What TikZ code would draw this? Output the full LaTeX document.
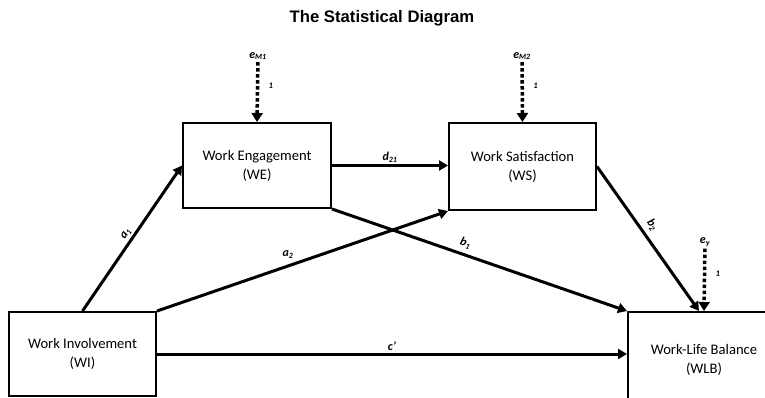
\documentclass[tikz,border=0pt]{standalone}
\usepackage{fontspec}
\setmainfont{Carlito}
\newfontfamily\titlefont{Liberation Sans}
\usetikzlibrary{arrows.meta}

\tikzset{
  var/.style={draw, line width=2pt, align=center, inner sep=0pt,
    font=\fontsize{14.6}{19}\selectfont},
  path/.style={line width=3pt, -{Triangle[length=9pt,width=10pt]}},
  err/.style={line width=3.5pt, dash pattern=on 3.5pt off 2.5pt,
    -{Triangle[length=9pt,width=11pt]}},
  coef/.style={font=\fontsize{12}{13}\selectfont\bfseries\itshape, inner sep=2pt},
  one/.style={font=\fontsize{8.5}{9}\selectfont\bfseries\itshape}
}

\begin{document}
\begin{tikzpicture}[x=1pt,y=-1pt]
\useasboundingbox (0,0) rectangle (765,397);

\node[font=\titlefont\fontsize{16.7}{18}\selectfont\bfseries] (title) at (382,18) {The Statistical Diagram};

% variables
\node[var, minimum width=147pt, minimum height=84pt] (WI) at (82.5,354) {Work Involvement\\(WI)};
\node[var, minimum width=148pt, minimum height=85pt] (WE) at (257,165.5) {Work Engagement\\(WE)};
\node[var, minimum width=147pt, minimum height=87pt] (WS) at (522.5,166.5) {Work Satisfaction\\(WS)};
\node[var, minimum width=152pt, minimum height=96pt] (WLB) at (704,360) {Work-Life Balance\\(WLB)};

% error terms
\node[coef] (eM1) at (258,56) {e\textsubscript{M1}};
\node[coef] (eM2) at (522,56) {e\textsubscript{M2}};
\node[coef] (ey) at (705,242) {e\textsubscript{y}};
\draw[err] (eM1) -- (WE.north) node[one, pos=0.4, right=6pt] {1};
\draw[err] (eM2) -- (WS.north) node[one, pos=0.4, right=6pt] {1};
\draw[err] (ey) -- (WLB.north) node[one, pos=0.4, right=6pt] {1};

% paths
\draw[path] (WI.north) -- (WE.west) node[coef, midway, above, sloped] {a\textsubscript{1}};
\draw[path] (WI.north east) -- (WS.south west) node[coef, pos=0.45, above=4pt] {a\textsubscript{2}};
\draw[path] (WE.east) -- (WE.east -| WS.west) node[coef, midway, above] {d\textsubscript{21}};
\draw[path] (WE.south east) -- (WLB.north west) node[coef, pos=0.44, above=3pt, sloped] {b\textsubscript{1}};
\draw[path] (WS.east) -- ([xshift=-5pt]WLB.north) node[coef, pos=0.45, above=3pt, sloped] {b\textsubscript{2}};
\draw[path] (WI.east) -- (WI.east -| WLB.west) node[coef, midway, above] {c’};
\end{tikzpicture}
\end{document}
